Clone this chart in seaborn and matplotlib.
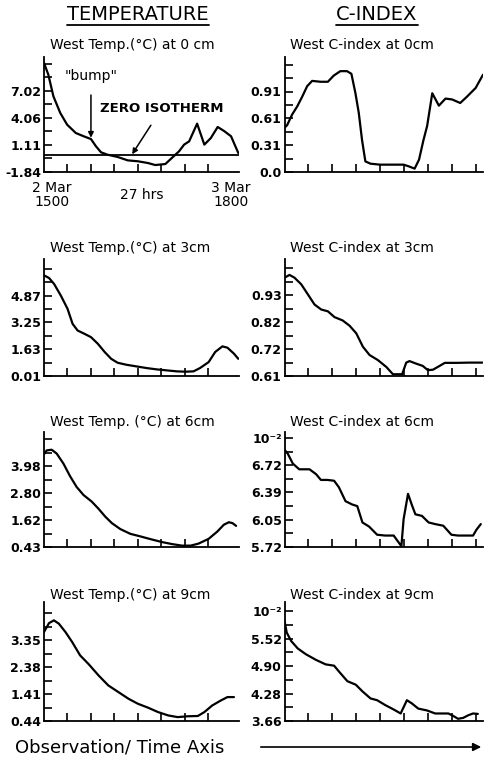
import matplotlib
matplotlib.use("Agg")
import matplotlib.pyplot as plt
import seaborn as sns
import numpy as np
from matplotlib.ticker import AutoMinorLocator
from matplotlib.lines import Line2D

sns.set_theme(style="ticks", rc={"axes.edgecolor": "black", "text.color": "black",
                                 "xtick.color": "black", "ytick.color": "black"})
plt.rcParams['font.family'] = ['DejaVu Sans']

# ---- data (x = hours after 2 Mar 1500) ----
temp0_hrs = [0, 0.6, 1.3, 2.25, 3.2, 4.4, 5.5, 6.5, 7.2, 7.9, 8.8, 10.2, 11.6, 13.0, 14.4,
             15.4, 16.8, 17.7, 18.7, 19.4, 20.1, 21.2, 22.2, 23.1, 24.05, 25.0, 25.9, 26.9]
temp0_vals = [10.07, 8.79, 6.43, 4.61, 3.33, 2.42, 2.06, 1.76, 0.96, 0.31, 0.05, -0.20, -0.57,
              -0.67, -0.86, -1.08, -0.97, -0.31, 0.42, 1.15, 1.51, 3.44, 1.15, 1.87, 3.08,
              2.60, 2.06, 0.24]
temp0_labels = ["-1.84", "1.11", "4.06", "7.02"]

cidx0_hrs = [0, 0.36, 1.04, 1.72, 2.4, 3.08, 3.76, 4.9, 5.9, 6.7, 7.6, 8.5, 9.1, 9.65, 10.1,
             10.55, 11.0, 11.7, 13.0, 14.9, 16.2, 16.9, 17.7, 18.3, 18.9, 19.4, 20.1, 21.0,
             21.9, 22.8, 23.9, 24.8, 26.0, 27.0]
cidx0_vals = [0.50, 0.53, 0.65, 0.74, 0.85, 0.97, 1.03, 1.02, 1.02, 1.09, 1.14, 1.14, 1.11,
              0.89, 0.67, 0.36, 0.12, 0.094, 0.083, 0.083, 0.083, 0.064, 0.038, 0.14, 0.36,
              0.52, 0.89, 0.75, 0.83, 0.82, 0.78, 0.85, 0.95, 1.10]
cidx0_labels = ["0.0", "0.31", "0.61", "0.91"]

temp3_hrs = [0.1, 0.7, 1.4, 2.33, 3.26, 3.96, 4.65, 5.6, 6.5, 7.45, 8.4, 9.3, 10.2, 11.4, 12.8,
             14.2, 15.6, 17.0, 18.4, 19.6, 20.7, 21.6, 22.8, 23.7, 24.7, 25.4, 26.3, 26.9]
temp3_vals = [6.07, 5.93, 5.57, 4.87, 4.07, 3.16, 2.76, 2.56, 2.36, 1.96, 1.46, 1.05, 0.81,
              0.69, 0.59, 0.49, 0.41, 0.35, 0.29, 0.27, 0.29, 0.49, 0.85, 1.46, 1.80, 1.72,
              1.36, 1.05]
temp3_labels = ["0.01", "1.63", "3.25", "4.87"]

cidx3_hrs = [0, 0.68, 1.36, 2.27, 3.18, 4.08, 5.0, 5.9, 6.8, 7.9, 8.85, 9.76, 10.66, 11.57,
             12.7, 13.84, 14.75, 16.0, 16.56, 17.0, 17.9, 18.8, 19.5, 20.2, 21.1, 21.8, 23.4,
             25.2, 26.9]
cidx3_vals = [0.999, 1.01, 0.999, 0.973, 0.933, 0.893, 0.873, 0.866, 0.843, 0.83, 0.809,
              0.779, 0.726, 0.693, 0.673, 0.646, 0.617, 0.617, 0.663, 0.669, 0.659, 0.65,
              0.633, 0.635, 0.65, 0.662, 0.662, 0.663, 0.663]
cidx3_labels = ["0.61", "0.72", "0.82", "0.93"]

temp6_hrs = [0, 0.37, 1.06, 1.76, 2.69, 3.6, 4.5, 5.46, 6.6, 7.5, 8.47, 9.4, 10.56, 11.95,
             13.3, 14.7, 16.3, 17.7, 19.1, 20.3, 21.4, 22.8, 24.0, 24.9, 25.6, 26.1, 26.6]
temp6_vals = [4.51, 4.68, 4.71, 4.54, 4.10, 3.55, 3.08, 2.72, 2.43, 2.13, 1.77, 1.48, 1.22,
              1.01, 0.90, 0.78, 0.65, 0.56, 0.49, 0.49, 0.58, 0.79, 1.11, 1.41, 1.52, 1.48,
              1.36]
temp6_labels = ["0.43", "1.62", "2.80", "3.98"]

cidx6_hrs = [0, 0.45, 1.13, 2.0, 3.4, 4.3, 4.95, 5.85, 6.75, 7.4, 8.3, 9.2, 9.9, 10.6, 11.5,
             12.6, 13.7, 14.85, 15.9, 16.2, 16.8, 17.3, 17.8, 18.7, 19.6, 20.5, 21.6, 22.7,
             23.6, 25.65, 26.1, 26.7]
cidx6_vals = [6.91, 6.86, 6.74, 6.67, 6.67, 6.61, 6.54, 6.54, 6.53, 6.45, 6.28, 6.24, 6.22,
              6.02, 5.97, 5.87, 5.86, 5.86, 5.73, 6.06, 6.37, 6.24, 6.12, 6.10, 6.02, 6.00,
              5.98, 5.87, 5.86, 5.86, 5.93, 6.00]
cidx6_labels = ["5.72", "6.05", "6.39", "6.72"]

temp9_hrs = [0, 0.69, 1.37, 2.06, 2.97, 3.9, 5.0, 6.2, 7.55, 8.9, 10.3, 11.7, 13.0, 14.4,
             15.8, 17.2, 18.5, 19.9, 21.3, 22.2, 23.3, 24.5, 25.4, 26.3]
temp9_vals = [3.64, 3.96, 4.06, 3.94, 3.64, 3.28, 2.80, 2.48, 2.08, 1.72, 1.48, 1.24, 1.06,
              0.92, 0.76, 0.64, 0.58, 0.61, 0.62, 0.76, 1.00, 1.18, 1.30, 1.30]
temp9_labels = ["0.44", "1.41", "2.38", "3.35"]

cidx9_hrs = [0, 0.3, 0.9, 1.8, 2.9, 4.3, 5.6, 6.75, 7.4, 8.55, 9.7, 10.6, 11.7, 12.6, 13.7,
             14.85, 15.8, 16.65, 17.3, 18.2, 19.35, 20.5, 22.3, 23.0, 23.6, 24.3, 25.0,
             25.65, 26.3]
cidx9_vals = [5.93, 5.66, 5.47, 5.30, 5.17, 5.04, 4.94, 4.91, 4.78, 4.56, 4.48, 4.33, 4.17,
              4.13, 4.02, 3.92, 3.83, 4.13, 4.06, 3.94, 3.90, 3.83, 3.83, 3.77, 3.71, 3.73,
              3.79, 3.83, 3.82]
cidx9_labels = ["3.66", "4.28", "4.90", "5.52"]

# (row, col, x, y, title, tick labels, y top, extra "10^-2" label)
panels = [
    (0, 0, temp0_hrs, temp0_vals, "West Temp.(°C) at 0 cm", temp0_labels, 10.72, False),
    (0, 1, cidx0_hrs, cidx0_vals, "West C-index at 0cm", cidx0_labels, 1.30, False),
    (1, 0, temp3_hrs, temp3_vals, "West Temp.(°C) at 3cm", temp3_labels, 7.08, False),
    (1, 1, cidx3_hrs, cidx3_vals, "West C-index at 3cm", cidx3_labels, 1.073, False),
    (2, 0, temp6_hrs, temp6_vals, "West Temp. (°C) at 6cm", temp6_labels, 5.49, False),
    (2, 1, cidx6_hrs, cidx6_vals, "West C-index at 6cm", cidx6_labels, 7.126, True),
    (3, 0, temp9_hrs, temp9_vals, "West Temp.(°C) at 9cm", temp9_labels, 4.72, False),
    (3, 1, cidx9_hrs, cidx9_vals, "West C-index at 9cm", cidx9_labels, 6.35, True),
]

# layout in pixels of the 486x761 reference
W, H = 486, 761
col_x = [44, 284.5]
col_w = [195, 198.5]
row_top = [57, 259, 432, 602]
row_bot = [172, 376, 547, 721]
title_dy = [12, 11, 10, 7]
n_xticks = [7, 8]
TICK_STEP = 3.25

fig = plt.figure(figsize=(W / 100, H / 100), dpi=100)
axes = {}
for row, col, hrs, vals, title, labels, ytop, mult in panels:
    ax = fig.add_axes([col_x[col] / W, 1 - row_bot[row] / H,
                       col_w[col] / W, (row_bot[row] - row_top[row]) / H])
    axes[(row, col)] = ax
    sns.lineplot(x=hrs, y=vals, ax=ax, color="black", linewidth=1.6, errorbar=None)

    ticks = list(np.linspace(float(labels[0]), float(labels[-1]), len(labels)))
    tick_labels = list(labels)
    if mult:
        ticks.append(ticks[-1] + (ticks[1] - ticks[0]))
        tick_labels.append("10⁻²")
    ax.set_ylim(float(labels[0]), ytop)
    ax.set_xlim(0, 27)
    ax.set_yticks(ticks)
    ax.set_yticklabels(tick_labels)
    ax.yaxis.set_minor_locator(AutoMinorLocator(2))
    ax.set_xticks(np.arange(1, n_xticks[col] + 1) * TICK_STEP)
    ax.tick_params(axis="x", labelbottom=False)
    ax.tick_params(axis="both", which="both", direction="in", length=6, width=1.2)
    ax.tick_params(axis="y", pad=2, labelsize=9)
    for lab in ax.get_yticklabels():
        lab.set_fontweight("bold")
    ax.set_xlabel("")
    ax.set_ylabel("")
    ax.set_facecolor("none")
    sns.despine(ax=ax)
    for s in ("left", "bottom"):
        ax.spines[s].set_linewidth(1.3)
    ax.annotate(title, xy=(0, 1), xycoords="axes fraction", xytext=(6, title_dy[row]),
                textcoords="offset pixels", ha="left", va="center", fontsize=10)

# zero isotherm and notes on the first panel
ax0 = axes[(0, 0)]
ax0.axhline(0, color="black", linewidth=1.3)
arrow = dict(arrowstyle="-|>", color="black", lw=1.1, mutation_scale=8, shrinkA=0, shrinkB=0)
ax0.annotate('"bump"', xy=(6.5, 1.9), xytext=(6.5, 8.6), ha="center", va="center",
             fontsize=10, arrowprops=dict(arrow, shrinkA=6))
ax0.annotate("ZERO ISOTHERM", xy=(12.2, 0.1), xytext=(16.3, 5.1), ha="center", va="center",
             fontsize=9.5, fontweight="bold", arrowprops=dict(arrow, shrinkA=6))
ax0.text(0.04, -0.2, "2 Mar\n1500", transform=ax0.transAxes, ha="center", va="center",
         fontsize=10, linespacing=1.0)
ax0.text(0.5, -0.2, "27 hrs", transform=ax0.transAxes, ha="center", va="center", fontsize=10)
ax0.text(0.96, -0.2, "3 Mar\n1800", transform=ax0.transAxes, ha="center", va="center",
         fontsize=10, linespacing=1.0)

# column headers, underlined
headers = [fig.text(138 / W, 1 - 14 / H, "TEMPERATURE", ha="center", va="center", fontsize=14),
           fig.text(377 / W, 1 - 14 / H, "C-INDEX", ha="center", va="center", fontsize=14)]
fig.canvas.draw()
renderer = fig.canvas.get_renderer()
for t in headers:
    bb = t.get_window_extent(renderer).transformed(fig.transFigure.inverted())
    fig.add_artist(Line2D([bb.x0, bb.x1], [1 - 25 / H] * 2, transform=fig.transFigure,
                          color="black", linewidth=1.3))

# time axis caption with arrow
fig.text(15 / W, 1 - 748 / H, "Observation/ Time Axis", ha="left", va="center", fontsize=13)
fig.add_artist(matplotlib.patches.FancyArrowPatch((258 / W, 1 - 747 / H), (484 / W, 1 - 747 / H),
                                                  transform=fig.transFigure, arrowstyle="-|>",
                                                  mutation_scale=12, color="black", lw=1.2))

fig.savefig("out.png", dpi=100)
